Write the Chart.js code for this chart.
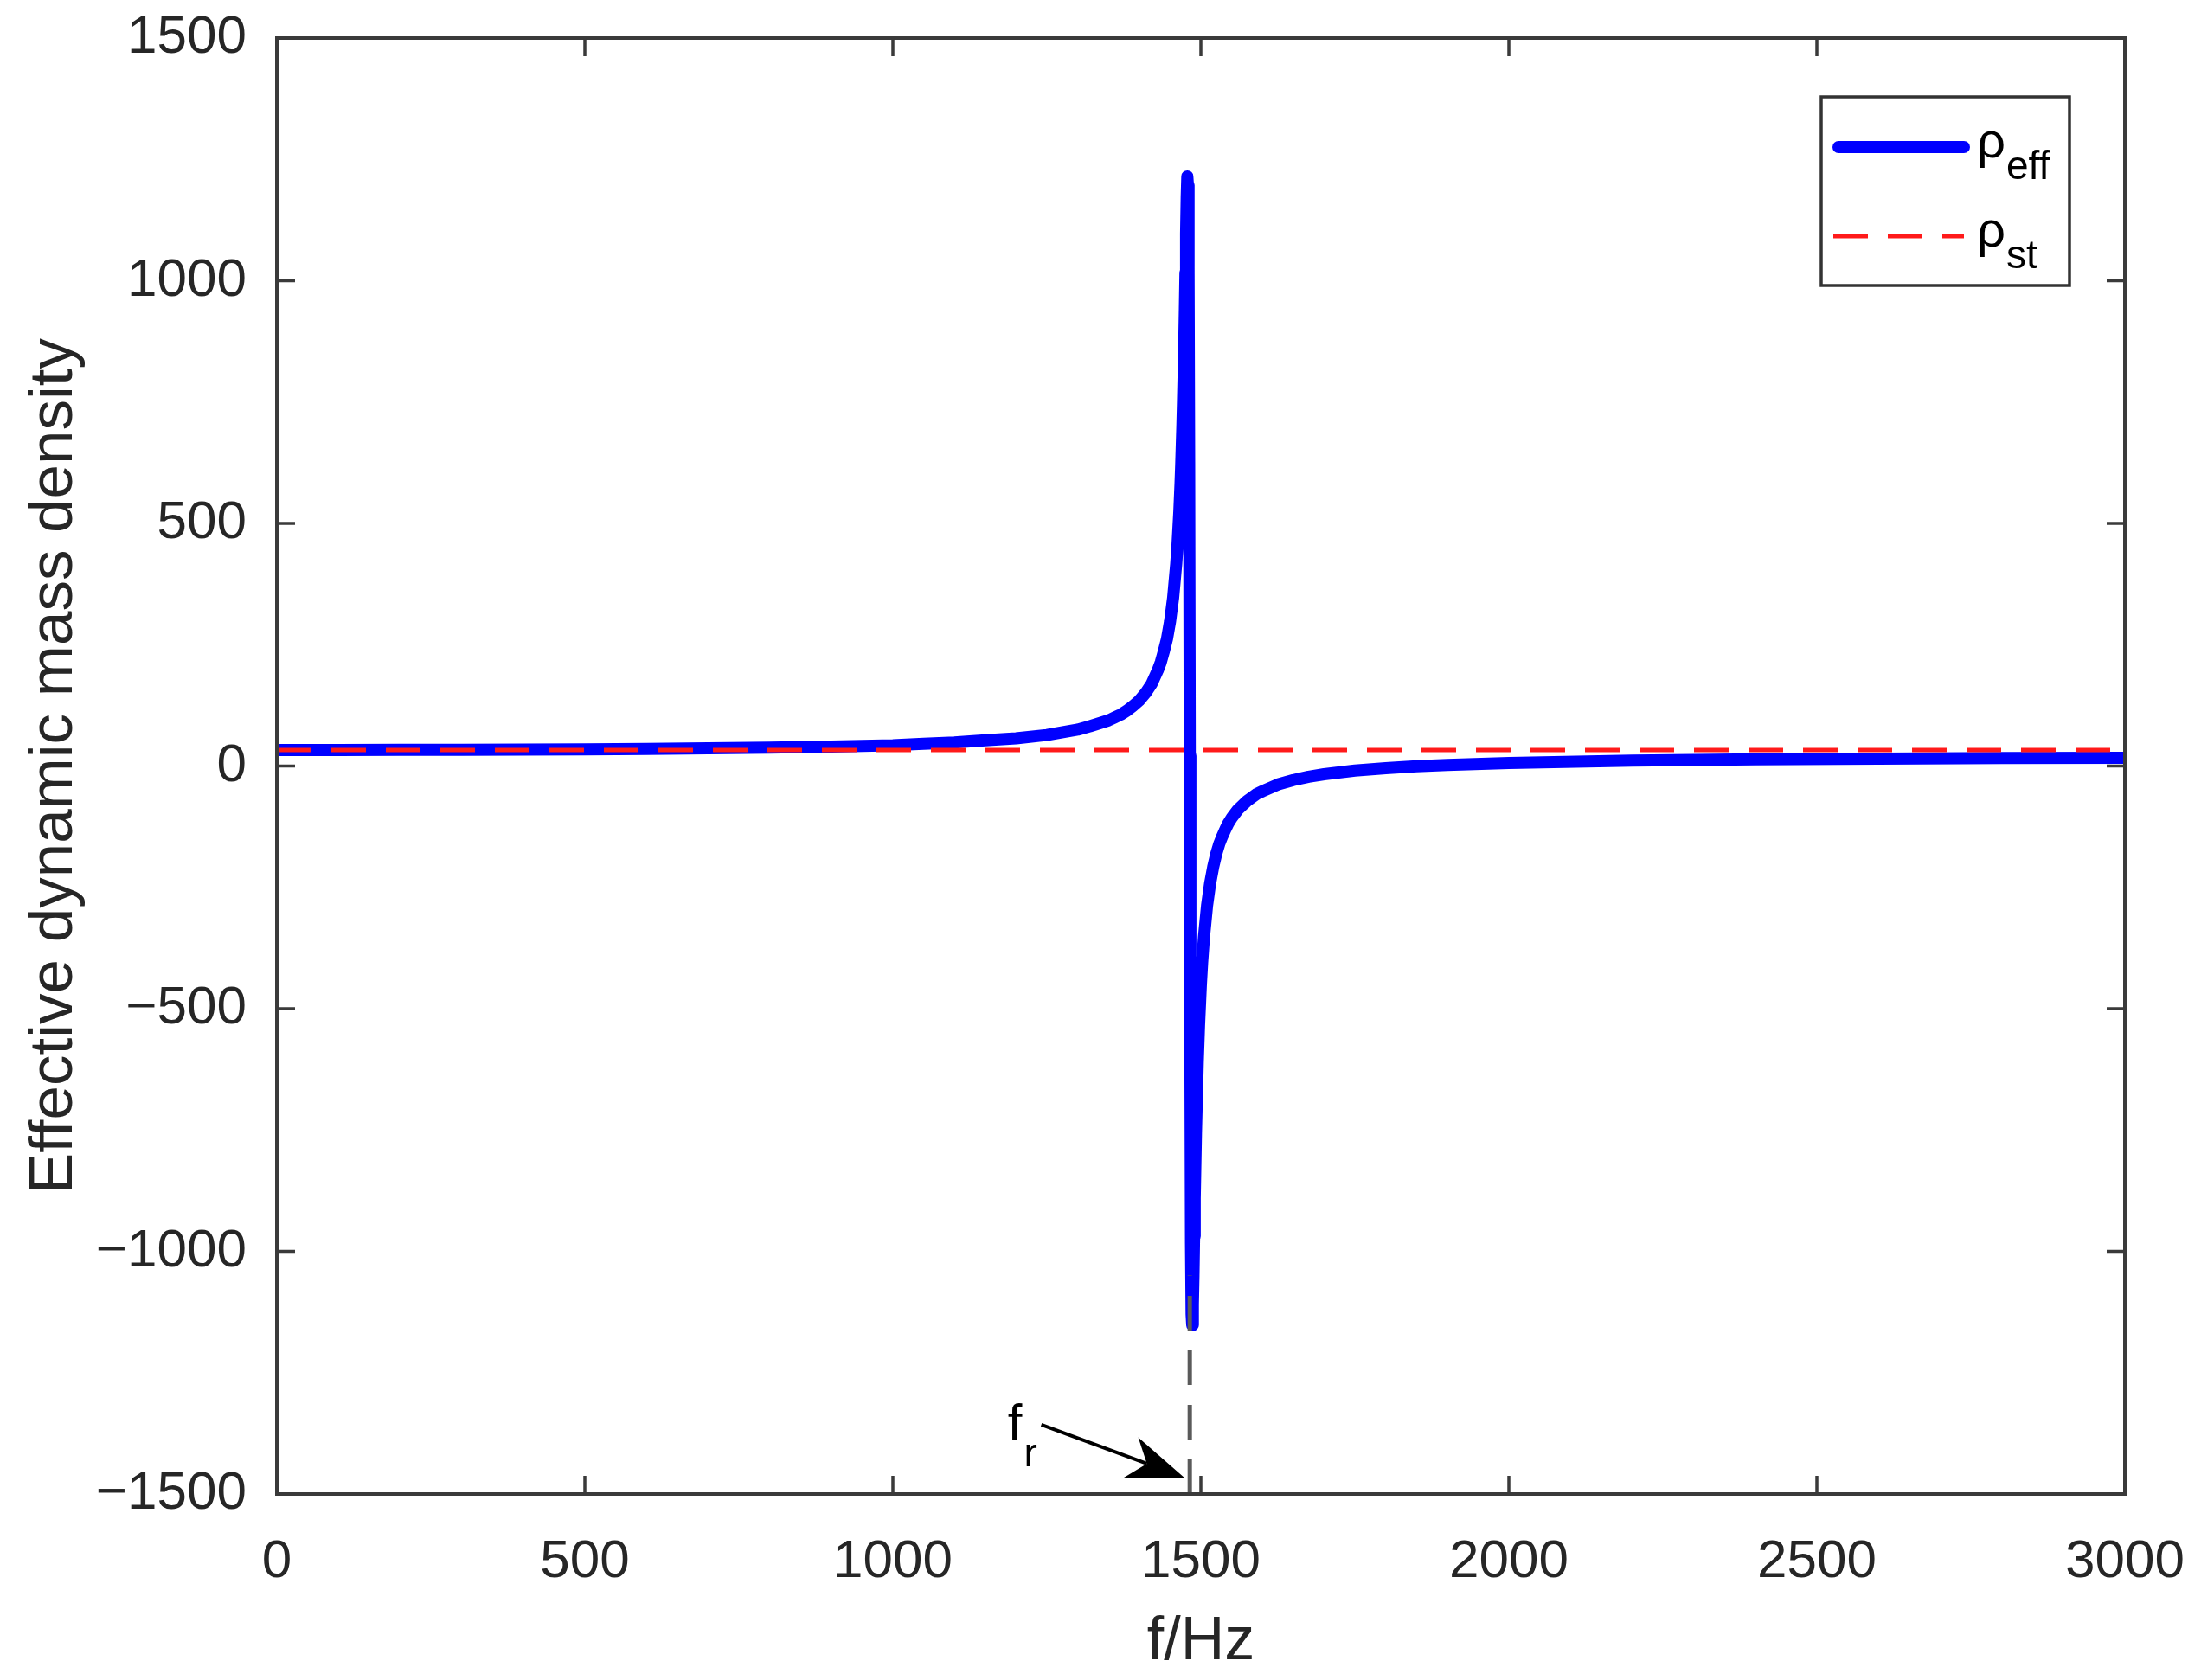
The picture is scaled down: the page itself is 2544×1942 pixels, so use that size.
<!DOCTYPE html>
<html><head><meta charset="utf-8">
<script src="https://cdn.jsdelivr.net/npm/chart.js@4.4.0/dist/chart.umd.min.js"></script>
<style>html,body{margin:0;padding:0;background:#fff;}canvas{display:block;}</style>
</head><body>
<canvas id="c" width="2544" height="1942" style="width:2544px;height:1942px"></canvas>
<script>
// ---- data ----
const freqHz = [0,100,200,300,400,500,600,700,800,900,1000,1050,1100,1150,1200,1250,1300,1320,1340,1350,1360,1370,1380,1390,1400,1410,1420,1430,1435,1440,1445,1450,1455,1460,1462,1465,1467,1468,1470,1471,1472,1473,1474,1475,1476,1477,1478,1479,1480,1481,1482,1483,1484,1485,1486,1487,1488,1489,1490,1492,1495,1497,1500,1502,1505,1510,1515,1520,1525,1530,1535,1540,1545,1550,1560,1575,1590,1600,1625,1650,1675,1700,1750,1800,1850,1900,2000,2200,2400,2600,2800,3000];
const rhoEff = [33.0,33.1,33.2,33.5,33.9,34.5,35.4,36.5,37.9,40.0,43.0,46,48.5,53,57,64,75,82,90,94,100,106,114,124,135,150,169,197,214,237,262,298,347,417,454,524,583,618,701,750,806,870,940,1017,1097,1172,1215,1197,1027,626,21,-584,-984,-1130,-1152,-1110,-1049,-969,-891,-757,-608,-535,-450,-406,-353,-288,-242,-208,-181,-160,-144,-130,-117,-107,-90,-72,-58,-52,-38,-29,-22,-17,-9.4,-4.3,-0.5,2.4,6.4,11.0,13.6,15.2,16.3,17.1];
const rhoStFreq = [0, 3000];
const rhoSt = [33, 33];
const resonanceFreq = [1482, 1482];
const resonanceMark = [-1500, -1050];
const xTickValues = [0,500,1000,1500,2000,2500,3000];
const xTickLabels = ['0','500','1000','1500','2000','2500','3000'];
const yTickValues = [-1500,-1000,-500,0,500,1000,1500];
const yTickLabels = ['\u22121500','\u22121000','\u2212500','0','500','1000','1500'];
const arrowFrom = [1241, -1357];
const arrowTo = [1473, -1466];
const frLabelAt = [1210, -1390];
const xTitle = 'f/Hz';
const yTitle = 'Effective dynamic mass density';

const FONT = '"Liberation Sans", Arial, Helvetica, sans-serif';
const TXT = '#262626';
const AX = '#3a3a3a';

const toXY = (xs, ys) => xs.map((x, i) => ({x, y: ys[i]}));

const boxPlugin = {
  id: 'box',
  afterDatasetsDraw(chart) {
    const ctx = chart.ctx, xs = chart.scales.x, ys = chart.scales.y;
    const {left, right, top, bottom} = chart.chartArea;
    ctx.save();
    // resonance arrow annotation
    const ax0 = xs.getPixelForValue(arrowFrom[0]), ay0 = ys.getPixelForValue(arrowFrom[1]);
    const ax1 = xs.getPixelForValue(arrowTo[0]), ay1 = ys.getPixelForValue(arrowTo[1]);
    const dx = ax1 - ax0, dy = ay1 - ay0, L = Math.hypot(dx, dy);
    const ux = dx / L, uy = dy / L, px = -uy, py = ux;
    const hl = 66, hw = 25, notch = 46;
    ctx.strokeStyle = '#000'; ctx.lineWidth = 4;
    ctx.beginPath(); ctx.moveTo(ax0, ay0);
    ctx.lineTo(ax1 - ux * notch, ay1 - uy * notch); ctx.stroke();
    ctx.fillStyle = '#000';
    ctx.beginPath();
    ctx.moveTo(ax1, ay1);
    ctx.lineTo(ax1 - ux * hl + px * hw, ay1 - uy * hl + py * hw);
    ctx.lineTo(ax1 - ux * notch, ay1 - uy * notch);
    ctx.lineTo(ax1 - ux * hl - px * hw, ay1 - uy * hl - py * hw);
    ctx.closePath(); ctx.fill();
    const fx = xs.getPixelForValue(frLabelAt[0]), fy = ys.getPixelForValue(frLabelAt[1]);
    ctx.fillStyle = '#000'; ctx.textAlign = 'right'; ctx.textBaseline = 'alphabetic';
    ctx.font = '60px ' + FONT; ctx.fillText('f', fx, fy);
    ctx.textAlign = 'left';
    ctx.font = '46px ' + FONT; ctx.fillText('r', fx + 2, fy + 30);

    // axes box and inward ticks
    ctx.strokeStyle = AX; ctx.lineWidth = 4; ctx.lineCap = 'butt';
    ctx.strokeRect(left, top, right - left, bottom - top);
    ctx.lineWidth = 3.5;
    const tl = 21;
    ctx.beginPath();
    xTickValues.forEach(v => {
      const p = xs.getPixelForValue(v);
      ctx.moveTo(p, bottom); ctx.lineTo(p, bottom - tl);
      ctx.moveTo(p, top); ctx.lineTo(p, top + tl);
    });
    yTickValues.forEach(v => {
      const p = ys.getPixelForValue(v);
      ctx.moveTo(left, p); ctx.lineTo(left + tl, p);
      ctx.moveTo(right, p); ctx.lineTo(right - tl, p);
    });
    ctx.stroke();

    // legend
    const lx = right - 351, ly = top + 68, lw = 287, lh = 218;
    ctx.fillStyle = '#fff'; ctx.fillRect(lx, ly, lw, lh);
    ctx.strokeStyle = '#333'; ctx.lineWidth = 3.5; ctx.strokeRect(lx, ly, lw, lh);
    const ds = chart.data.datasets;
    const rows = [
      {d: ds[2], y: ly + 58, main: '\u03c1', sub: 'eff'},
      {d: ds[1], y: ly + 161, main: '\u03c1', sub: 'st'}
    ];
    rows.forEach(r => {
      ctx.save();
      ctx.strokeStyle = r.d.borderColor; ctx.lineWidth = r.d.borderWidth;
      ctx.setLineDash(r.d.borderDash || []);
      ctx.lineCap = r.d.borderDash ? 'butt' : 'round';
      ctx.beginPath();
      ctx.moveTo(lx + (r.d.borderDash ? 14 : 20), r.y);
      ctx.lineTo(lx + 165, r.y); ctx.stroke();
      ctx.restore();
      ctx.fillStyle = '#000'; ctx.textAlign = 'left'; ctx.textBaseline = 'alphabetic';
      ctx.font = '58px ' + FONT; ctx.fillText(r.main, lx + 180, r.y + 12);
      ctx.font = '46px ' + FONT; ctx.fillText(r.sub, lx + 214, r.y + 37);
    });
    ctx.restore();
  }
};

new Chart(document.getElementById('c'), {
  type: 'line',
  data: {
    datasets: [
      {label: 'f_r', data: toXY(resonanceFreq, resonanceMark), borderColor: '#5a5a5a', borderWidth: 5,
       borderDash: [40, 23], pointRadius: 0, borderCapStyle: 'butt', fill: false},
      {label: 'ρst', data: toXY(rhoStFreq, rhoSt), borderColor: '#ff1a1a', borderWidth: 5,
       borderDash: [40, 23], pointRadius: 0, borderCapStyle: 'butt', fill: false},
      {label: 'ρeff', data: toXY(freqHz, rhoEff), borderColor: '#0000ff', borderWidth: 14,
       pointRadius: 0, tension: 0, borderJoinStyle: 'round', borderCapStyle: 'round', fill: false}
    ]
  },
  options: {
    responsive: false, animation: false, devicePixelRatio: 1,
    layout: {padding: {left: 0, right: 88, top: 44, bottom: 0}},
    plugins: {legend: {display: false}, tooltip: {enabled: false}},
    scales: {
      x: {
        type: 'linear', min: 0, max: 3000,
        afterFit: s => { s.height = 215; s.paddingLeft = 0; s.paddingRight = 0; },
        afterBuildTicks: s => { s.ticks = xTickValues.map(v => ({value: v})); },
        grid: {display: false, drawTicks: false, tickLength: 0},
        border: {display: false},
        ticks: {font: {size: 62, family: FONT}, color: TXT, padding: 42, maxRotation: 0, autoSkip: false,
                callback: (v) => xTickLabels[xTickValues.indexOf(v)]},
        title: {display: true, text: xTitle, font: {size: 70, family: FONT}, color: TXT, padding: {top: 0, bottom: 1}}
      },
      y: {
        type: 'linear', min: -1500, max: 1500,
        afterFit: s => { s.width = 320; s.paddingTop = 0; s.paddingBottom = 0; },
        afterBuildTicks: s => { s.ticks = yTickValues.map(v => ({value: v})); },
        grid: {display: false, drawTicks: false, tickLength: 0},
        border: {display: false},
        ticks: {font: {size: 62, family: FONT}, color: TXT, padding: 35, autoSkip: false,
                callback: (v) => yTickLabels[yTickValues.indexOf(v)]},
        title: {display: true, text: yTitle, font: {size: 71, family: FONT}, color: TXT, padding: {top: 21, bottom: 0}}
      }
    }
  },
  plugins: [boxPlugin]
});
</script>
</body></html>
